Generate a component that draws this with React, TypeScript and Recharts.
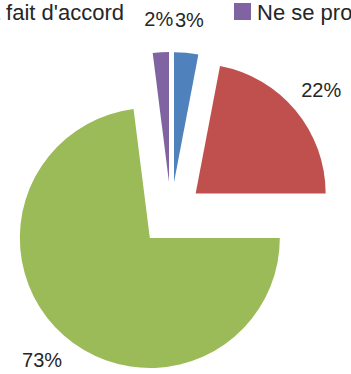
import { PieChart, Pie, Cell } from "recharts"

// answer categories, in the pie's clockwise order from 12 o'clock
const categories = ["Pas d'accord", "Plutôt d'accord", "Tout à fait d'accord", "Ne se prononce pas"]
const shares = [3, 22, 73, 2]
const colors = ["#4F81BD", "#C0504D", "#9BBB59", "#8064A2"]

// only the tail of the legend row is visible in the crop
const legendItems = [
  { name: "Tout à fait d'accord", color: "#9BBB59" },
  { name: "Ne se prononce pas", color: "#8064A2" },
]

const data = categories.map((name, i) => ({ name, value: shares[i] }))

const W = 351
const H = 374
const CX = 171
const CY = 214
const R = 130
const EXPLODE = 32
const RADIAN = Math.PI / 180
const FONT = "'Liberation Sans', Arial, sans-serif"

const total = shares.reduce((a, b) => a + b, 0)

// every slice is pulled out along its own bisector
const offsets = shares.map((v, i) => {
  const before = shares.slice(0, i).reduce((a, b) => a + b, 0)
  const mid = ((before + v / 2) / total) * 2 * Math.PI
  return { dx: EXPLODE * Math.sin(mid), dy: -EXPLODE * Math.cos(mid) }
})

const makeLabel = (k: number) => (p: any) => {
  if (p.index !== k) return null
  const r = p.outerRadius + 33
  const x = p.cx + r * Math.cos(-p.midAngle * RADIAN)
  const y = p.cy + r * Math.sin(-p.midAngle * RADIAN)
  return (
    <text x={x} y={y} textAnchor="middle" dominantBaseline="central" fill="#262626" fontSize={20} fontFamily={FONT}>
      {`${Math.round(p.percent * 100)}%`}
    </text>
  )
}

export default function App() {
  return (
    <div style={{ position: "absolute", left: 0, top: 0, width: W, height: H, overflow: "hidden", background: "#fff" }}>
      <PieChart width={W} height={H} margin={{ top: 0, right: 0, bottom: 0, left: 0 }}>
        {shares.map((_, k) => (
          <Pie
            key={k}
            data={data}
            dataKey="value"
            nameKey="name"
            cx={CX + offsets[k].dx}
            cy={CY + offsets[k].dy}
            outerRadius={R}
            startAngle={90}
            endAngle={-270}
            stroke="none"
            label={makeLabel(k)}
            labelLine={false}
            isAnimationActive={false}
          >
            {data.map((_, i) => (
              <Cell key={i} fill={i === k ? colors[i] : "none"} />
            ))}
          </Pie>
        ))}
      </PieChart>
      <svg width={W} height={30} style={{ position: "absolute", left: 0, top: 0 }}>
        <text x={124} y={20} textAnchor="end" fill="#262626" fontSize={22} fontFamily={FONT}>
          {legendItems[0].name}
        </text>
        <rect x={234} y={3} width={17} height={17} fill={legendItems[1].color} />
        <text x={257} y={20} fill="#262626" fontSize={22} fontFamily={FONT}>
          {legendItems[1].name}
        </text>
      </svg>
    </div>
  )
}
